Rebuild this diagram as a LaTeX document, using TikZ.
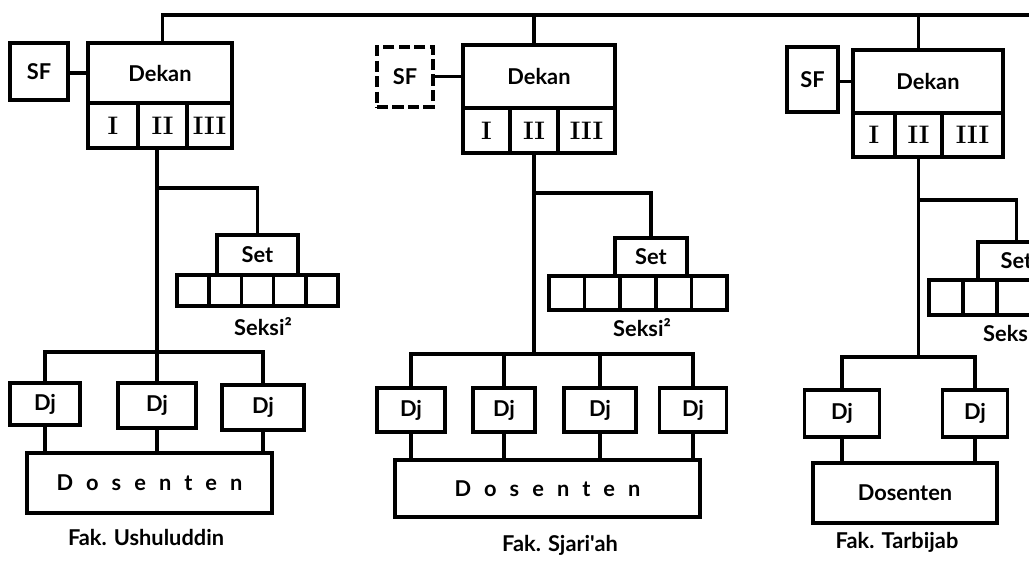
\documentclass[tikz,border=0pt]{standalone}
\usepackage{fontspec}
\newfontfamily\lato{Lato}
\newfontfamily\latosp{Lato}[LetterSpace=60]
\newcommand{\ftxt}{\lato\bfseries\fontsize{15.5}{19}\selectfont}
\newcommand{\fsp}{\latosp\bfseries\fontsize{15.5}{19}\selectfont}
\newcommand{\fnum}{\rmfamily\bfseries\fontsize{18}{20}\selectfont}
\tikzset{
  box/.style={draw,line width=2.5pt,inner sep=0pt,font=\ftxt},
  dashbox/.style={box,dash pattern=on 8pt off 3pt},
  rom/.style={box,font=\fnum},
  sek/.style={draw,line width=2.5pt,inner sep=0pt},
  lnk/.style={line width=2.5pt},
  fak/.style={font=\ftxt,inner sep=1pt},
}
\begin{document}
\begin{tikzpicture}[x=0.025cm,y=-0.025cm]
\useasboundingbox (0,0) rectangle (1029,561);
\clip (0,0) rectangle (1029,561);
\coordinate (topR) at (1040,15);
% Fak. Ushuluddin
\node[box,minimum width=1.45cm,minimum height=1.425cm] (sf1) at (39,71.5) {SF};
\node[box,minimum width=3.6cm,minimum height=1.5cm] (dek1) at (160,73) {Dekan};
\node[rom,minimum width=1.25cm,minimum height=1.125cm] (r1a) at (113,125.5) {I};
\node[rom,minimum width=1.225cm,minimum height=1.125cm] (r1b) at (162.5,125.5) {II};
\node[rom,minimum width=1.125cm,minimum height=1.125cm] (r1c) at (209.5,125.5) {III};
\node[box,minimum width=2.025cm,minimum height=1cm] (set1) at (257.5,255) {Set};
\foreach \i in {0,...,4}
  \node[sek,minimum width=0.805cm,minimum height=0.775cm] (s1\i) at ({193.1+32.2*\i},290.5) {};
\node[fak] (k1) at (263,327) {Seksi²};
\node[box,minimum width=1.75cm,minimum height=1.05cm] (dj11) at (45,404) {Dj};
\node[box,minimum width=1.95cm,minimum height=1.125cm] (dj12) at (157,405.5) {Dj};
\node[box,minimum width=2.05cm,minimum height=1.125cm] (dj13) at (263,407.5) {Dj};
\node[box,font=\fsp,minimum width=6.125cm,minimum height=1.5cm] (dos1) at (149.5,483) {Dosenten};
\node[fak] (fak1) at (146,537) {Fak. Ushuluddin};
\coordinate (b1) at (0,352);
\draw[lnk] (r1b |- dek1.north) |- (topR);
\draw[lnk] (dek1.west) -- (sf1.east |- dek1.west);
\draw[lnk] (dj12.north) -- (dj12.north |- r1b.south);
\draw[lnk] (set1.north) -- ++(0,-45) -| (dj12.north |- r1b.south);
\draw[lnk] (dj11.north) |- (dj13.north |- b1) -- (dj13.north);
\foreach \d in {dj11,dj12,dj13}
  \draw[lnk] (\d.south) -- (\d.south |- dos1.north);
% Fak. Sjari'ah
\node[dashbox,minimum width=1.4cm,minimum height=1.5cm] (sf2) at (405,77) {SF};
\node[box,minimum width=3.8cm,minimum height=1.575cm] (dek2) at (539,76.5) {Dekan};
\node[rom,minimum width=1.175cm,minimum height=1.125cm] (r2a) at (486.5,130.5) {I};
\node[rom,minimum width=1.2cm,minimum height=1.125cm] (r2b) at (534,130.5) {II};
\node[rom,minimum width=1.425cm,minimum height=1.125cm] (r2c) at (586.5,130.5) {III};
\node[box,minimum width=1.8cm,minimum height=0.95cm] (set2) at (651,257) {Set};
\foreach \i in {0,...,4}
  \node[sek,minimum width=0.89cm,minimum height=0.85cm] (s2\i) at ({566.8+35.6*\i},293) {};
\node[fak] (k2) at (642,328) {Seksi²};
\node[box,minimum width=1.7cm,minimum height=1.1cm] (dj21) at (411,410) {Dj};
\node[box,minimum width=1.55cm,minimum height=1.1cm] (dj22) at (504,410) {Dj};
\node[box,minimum width=1.8cm,minimum height=1.1cm] (dj23) at (600,410) {Dj};
\node[box,minimum width=1.675cm,minimum height=1.1cm] (dj24) at (693,410) {Dj};
\node[box,font=\fsp,minimum width=7.625cm,minimum height=1.425cm] (dos2) at (547.5,488.5) {Dosenten};
\node[fak] (fak2) at (560,545) {Fak. Sjari'ah};
\coordinate (b2) at (0,354);
\draw[lnk] (r2b |- dek2.north) -- (r2b |- topR);
\draw[lnk] (dek2.west) -- (sf2.east |- dek2.west);
\draw[lnk] (r2b.south) -- (r2b.south |- b2);
\draw[lnk] (set2.north) -- ++(0,-43) -| (r2b.south);
\draw[lnk] (dj21.north) |- (dj24.north |- b2) -- (dj24.north);
\foreach \d in {dj22,dj23}
  \draw[lnk] (\d.north) -- (\d.north |- b2);
\foreach \d in {dj21,dj22,dj23,dj24}
  \draw[lnk] (\d.south) -- (\d.south |- dos2.north);
% Fak. Tarbijab
\node[box,minimum width=1.275cm,minimum height=1.625cm] (sf3) at (812.5,79.5) {SF};
\node[box,minimum width=3.75cm,minimum height=1.575cm] (dek3) at (928,81.5) {Dekan};
\node[rom,minimum width=1.05cm,minimum height=1.1cm] (r3a) at (874,135) {I};
\node[rom,minimum width=1.175cm,minimum height=1.1cm] (r3b) at (918.5,135) {II};
\node[rom,minimum width=1.525cm,minimum height=1.1cm] (r3c) at (972.5,135) {III};
\node[box,minimum width=1.925cm,minimum height=0.95cm] (set3) at (1016.5,261) {Set};
\foreach \i in {0,...,4}
  \node[sek,minimum width=0.85cm,minimum height=0.875cm] (s3\i) at ({946+34*\i},297.5) {};
\node[fak] (k3) at (1012,333) {Seksi²};
\node[box,minimum width=1.875cm,minimum height=1.175cm] (dj31) at (842,413.5) {Dj};
\node[box,minimum width=1.625cm,minimum height=1.175cm] (dj32) at (975,413.5) {Dj};
\node[box,minimum width=4.6cm,minimum height=1.5cm] (dos3) at (905,493) {Dosenten};
\node[fak] (fak3) at (897,542) {Fak. Tarbijab};
\coordinate (b3) at (0,357);
\draw[lnk] (r3b |- dek3.north) -- (r3b |- topR);
\draw[lnk] (dek3.west) -- (sf3.east |- dek3.west);
\draw[lnk] (r3b.south) -- (r3b.south |- b3);
\draw[lnk] (set3.north) -- ++(0,-40) -| (r3b.south);
\draw[lnk] (dj31.north) |- (dj32.north |- b3) -- (dj32.north);
\foreach \d in {dj31,dj32}
  \draw[lnk] (\d.south) -- (\d.south |- dos3.north);
\end{tikzpicture}
\end{document}
